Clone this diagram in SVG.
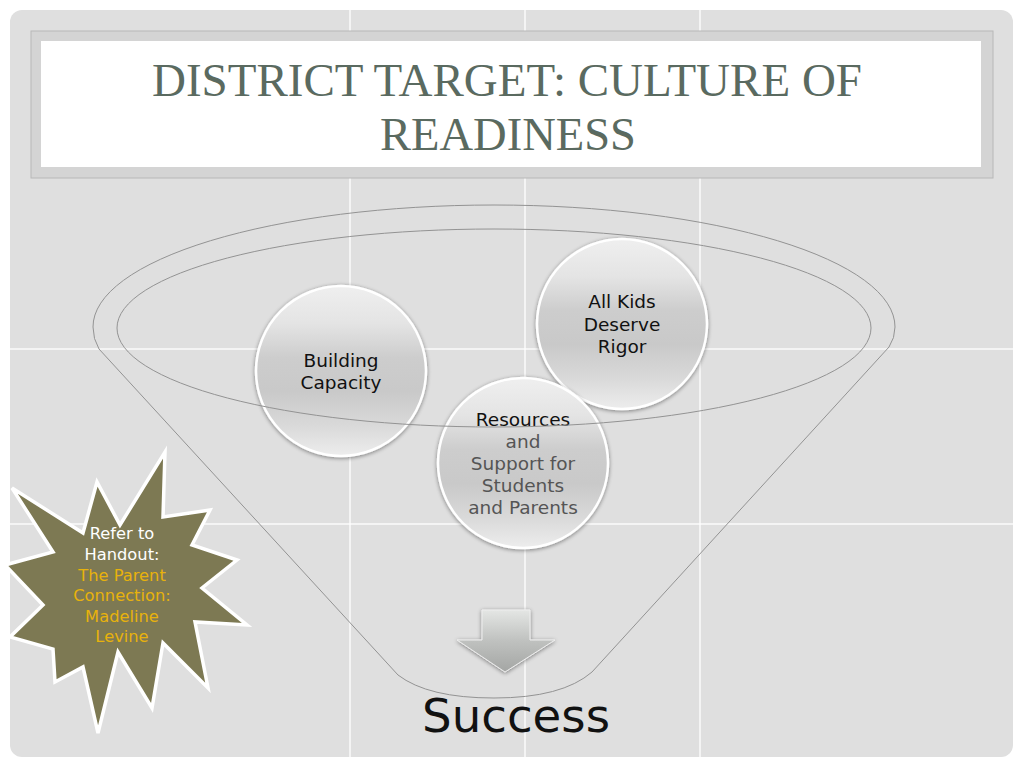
<svg xmlns="http://www.w3.org/2000/svg" width="1024" height="768" viewBox="0 0 1024 768">
  <style>
    .grid { stroke: #ffffff; stroke-width: 1.5; opacity: 0.9; }
    .title { font-family: "Liberation Serif", "Times New Roman", serif; font-size: 46px; fill: #5a6a60; text-anchor: middle; }
    .fun { fill: none; stroke: #939393; stroke-width: 1; }
    .sph { fill: url(#sphGrad); stroke: #ffffff; stroke-width: 2.5; filter: url(#shadow); }
    .lbl { font-family: "DejaVu Sans", "Liberation Sans", sans-serif; font-size: 18.5px; fill: #111111; text-anchor: middle; }
    .lbl2 { fill: #555555; }
    .star { font-family: "DejaVu Sans", "Liberation Sans", sans-serif; font-size: 16.3px; text-anchor: middle; }
    .w { fill: #ffffff; }
    .g { fill: #e8b20c; }
  </style>
  <defs>
    <linearGradient id="sphGrad" x1="0" y1="0" x2="0" y2="1">
      <stop offset="0" stop-color="#efefef"/>
      <stop offset="0.22" stop-color="#e4e4e4"/>
      <stop offset="0.42" stop-color="#cdcdcd"/>
      <stop offset="0.62" stop-color="#c9c9c9"/>
      <stop offset="0.82" stop-color="#d9d9d9"/>
      <stop offset="1" stop-color="#ededed"/>
    </linearGradient>
    <linearGradient id="arrGrad" x1="0" y1="0" x2="0" y2="1">
      <stop offset="0" stop-color="#e4e6e4"/>
      <stop offset="0.5" stop-color="#bfc1bf"/>
      <stop offset="1" stop-color="#a4a6a4"/>
    </linearGradient>
    <filter id="shadow" x="-20%" y="-20%" width="140%" height="140%">
      <feGaussianBlur in="SourceAlpha" stdDeviation="2.2"/>
      <feOffset dx="0" dy="1" result="b"/>
      <feComponentTransfer><feFuncA type="linear" slope="0.45"/></feComponentTransfer>
      <feMerge><feMergeNode/><feMergeNode in="SourceGraphic"/></feMerge>
    </filter>
  </defs>

  <rect x="0" y="0" width="1024" height="768" fill="#ffffff"/>
  <rect id="panel" x="10" y="10" width="1003" height="747" rx="12" fill="#dfdfdf"/>

  <g id="grid">
    <line class="grid" x1="350" y1="10" x2="350" y2="757"/>
    <line class="grid" x1="525" y1="10" x2="525" y2="757"/>
    <line class="grid" x1="700" y1="10" x2="700" y2="757"/>
    <line class="grid" x1="10" y1="349" x2="1013" y2="349"/>
    <line class="grid" x1="10" y1="524" x2="1013" y2="524"/>
  </g>

  <g id="title">
    <rect x="31" y="31" width="962" height="147" fill="#d4d4d4" stroke="#b8b8b8" stroke-width="1"/>
    <rect x="41" y="41" width="940" height="126" fill="#ffffff"/>
    <text class="title" x="507" y="96" textLength="710" lengthAdjust="spacingAndGlyphs">DISTRICT TARGET: CULTURE OF</text>
    <text class="title" x="508" y="150" textLength="256" lengthAdjust="spacingAndGlyphs">READINESS</text>
  </g>

  <g id="funnel">
    <path class="fun" d="M 93 327 A 401 122 0 0 1 895 327 Q 895 338 889 347 L 592 672 Q 562 698 494 698 Q 428 698 398 675 L 99 349 Q 93 339 93 327 Z"/>
  </g>

  <g id="node-building">
    <circle class="sph" cx="341" cy="371" r="85"/>
    <text class="lbl" x="341" y="367">Building</text>
    <text class="lbl" x="341" y="389">Capacity</text>
  </g>

  <g id="node-allkids">
    <circle class="sph" cx="622" cy="324" r="85"/>
    <text class="lbl" x="622" y="308">All Kids</text>
    <text class="lbl" x="622" y="331">Deserve</text>
    <text class="lbl" x="622" y="353">Rigor</text>
  </g>

  <g id="node-resources">
    <circle class="sph" cx="523" cy="463" r="85"/>
    <text class="lbl" x="523" y="426">Resources</text>
    <text class="lbl lbl2" x="523" y="448">and</text>
    <text class="lbl lbl2" x="523" y="470">Support for</text>
    <text class="lbl lbl2" x="523" y="492">Students</text>
    <text class="lbl lbl2" x="523" y="514">and Parents</text>
  </g>

  <g id="connectors">
    <ellipse class="fun" cx="494" cy="328" rx="377" ry="99"/>
  </g>

  <g id="arrow">
    <polygon points="482,610 530,610 530,640 555,640 505,672 457,640 482,640" fill="url(#arrGrad)" stroke="#eeeeee" stroke-width="1" filter="url(#shadow)"/>
  </g>

  <g id="success">
    <text x="516" y="732" font-family="DejaVu Sans, Liberation Sans, sans-serif" font-size="46.7" fill="#111111" text-anchor="middle">Success</text>
  </g>

  <g id="note-star">
    <path d="M165,452 L163,517 L210,510 L192,545 L237,560 L202,588 L247,625 L195,622 L208,688 L163,643 L152,708 L118,652 L98,733 L83,667 L55,682 L53,649 L10,637 L43,605 L5,565 L53,552 L12,488 L83,533 L97,482 L120,525 Z" fill="#7d7953" stroke="#ffffff" stroke-width="3.5" stroke-linejoin="miter"/>
    <text class="star w" x="122" y="539">Refer to</text>
    <text class="star w" x="122" y="560">Handout:</text>
    <text class="star g" x="122" y="580.5">The Parent</text>
    <text class="star g" x="122" y="601">Connection:</text>
    <text class="star g" x="122" y="621.5">Madeline</text>
    <text class="star g" x="122" y="642">Levine</text>
  </g>
</svg>
